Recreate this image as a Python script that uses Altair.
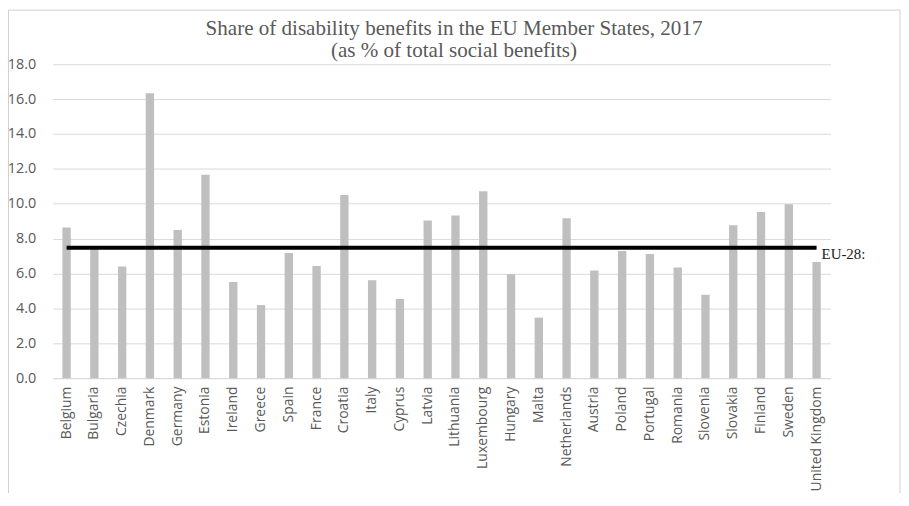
import altair as alt
import pandas as pd

countries = ["Belgium", "Bulgaria", "Czechia", "Denmark", "Germany", "Estonia", "Ireland",
             "Greece", "Spain", "France", "Croatia", "Italy", "Cyprus", "Latvia", "Lithuania",
             "Luxembourg", "Hungary", "Malta", "Netherlands", "Austria", "Poland", "Portugal",
             "Romania", "Slovenia", "Slovakia", "Finland", "Sweden", "United Kingdom"]
shares = [8.64, 7.45, 6.40, 16.34, 8.49, 11.66, 5.52, 4.19, 7.17, 6.43, 10.50, 5.62, 4.54,
          9.04, 9.32, 10.72, 5.96, 3.47, 9.17, 6.17, 7.29, 7.12, 6.34, 4.78, 8.77, 9.53, 9.97, 6.66]
eu28 = 7.48
eu_label = "EU-28:"
y_ticks = [0, 2, 4, 6, 8, 10, 12, 14, 16, 18]
title_lines = ["Share of disability benefits in the EU Member States, 2017",
               "(as % of total social benefits)"]

df = pd.DataFrame({"country": countries, "share": shares, "eu": [eu28] * len(countries)})
lab = pd.DataFrame({"country": [countries[-1]], "eu": [eu28], "label": [eu_label]})
one = pd.DataFrame({"a": [0]})

yscale = alt.Scale(domain=[0, 18], nice=False)
xscale = alt.Scale(paddingInner=0.70, paddingOuter=0.35)
xaxis = alt.Axis(labelAngle=-90, ticks=False, labelPadding=8, domainColor="#d9d9d9",
                 labelFont="Open Sans", labelFontSize=14, labelColor="#595959",
                 labelOverlap=False, title=None)
yaxis = alt.Axis(values=y_ticks, format=".1f", domain=False, ticks=False,
                 labelPadding=17, gridColor="#d9d9d9", labelFont="Open Sans",
                 labelFontSize=14.5, labelColor="#595959", labelOverlap=False, title=None)


def xe():
    return alt.X("country:N", sort=countries, title=None, scale=xscale, axis=xaxis)


def ye(field):
    return alt.Y(field, title=None, scale=yscale, axis=yaxis)


bars = alt.Chart(df).mark_bar(color="#bfbfbf").encode(x=xe(), y=ye("share:Q"))

line = alt.Chart(df).mark_line(color="black", strokeWidth=4).encode(x=xe(), y=ye("eu:Q"))

text = alt.Chart(lab).mark_text(align="left", baseline="middle", dx=5, dy=6,
                                font="Liberation Serif", fontSize=15, color="#1a1a1a").encode(
    x=xe(), y=ye("eu:Q"), text="label:N")

title1 = alt.Chart(one).mark_text(align="center", baseline="alphabetic",
                                  font="Liberation Serif", fontSize=21.2, color="#595959",
                                  text=title_lines[0]).encode(
    x=alt.value(404), y=alt.value(-29.5))
title2 = alt.Chart(one).mark_text(align="center", baseline="alphabetic",
                                  font="Liberation Serif", fontSize=21.2, color="#595959",
                                  text=title_lines[1]).encode(
    x=alt.value(404), y=alt.value(-7.5))

frame_left = alt.Chart(one).mark_rule(color="#d0d0d0").encode(
    x=alt.value(-44.5), y=alt.value(-54.5), y2=alt.value(440))
frame_right = alt.Chart(one).mark_rule(color="#d0d0d0").encode(
    x=alt.value(853), y=alt.value(-54.5), y2=alt.value(440))
frame_top = alt.Chart(one).mark_rule(color="#d0d0d0").encode(
    x=alt.value(-44.5), x2=alt.value(853), y=alt.value(-54.5))

chart = alt.layer(bars, line, text, title1, title2, frame_left, frame_right, frame_top).properties(
    width=783, height=316,
    autosize=alt.AutoSizeParams(type="none"),
    padding={"left": 45, "top": 55, "right": 71, "bottom": 114},
).configure_view(stroke=None)

chart.save("out.html", embed_options={"renderer": "svg", "actions": False})
